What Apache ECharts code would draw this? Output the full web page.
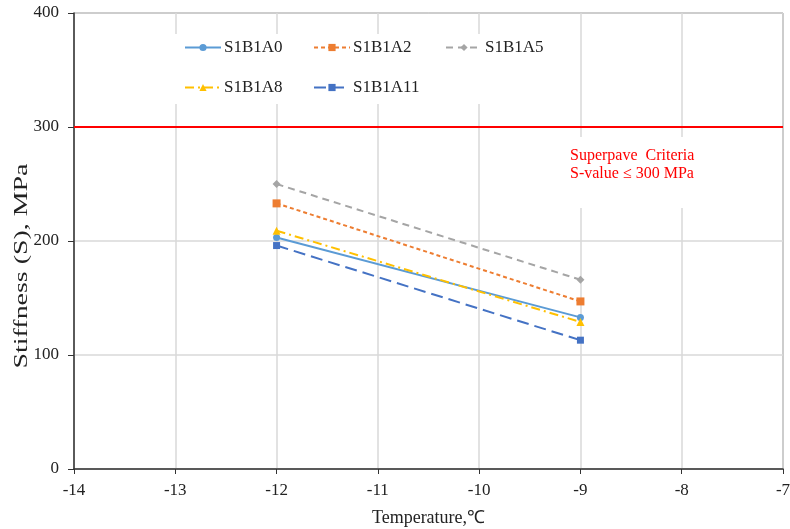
<!DOCTYPE html>
<html>
<head>
<meta charset="utf-8">
<script src="https://cdn.jsdelivr.net/npm/echarts@6/dist/echarts.min.js"></script>
<style>
  html, body { margin: 0; padding: 0; background: #fff; }
  #chart { width: 790px; height: 529px; }
</style>
</head>
<body>
<div id="chart"></div>
<script>
// Temperatures tested (°C)
const temperatures = [-12, -9];

// Creep stiffness S (MPa) per binder blend
const sA0  = [203, 133];
const sA2  = [233, 147];
const sA5  = [250, 166];
const sA8  = [209, 129];
const sA11 = [196, 113];

const seriesNames = ['S1B1A0', 'S1B1A2', 'S1B1A5', 'S1B1A8', 'S1B1A11'];
const criterion = 300;

const serif = '"Liberation Serif", "Times New Roman", serif';

const chart = echarts.init(document.getElementById('chart'));

function pairs(vals) {
  return temperatures.map((t, i) => [t, vals[i]]);
}

function lineSeries(name, vals, color, dash, symbol, size) {
  return {
    name: name,
    type: 'line',
    data: pairs(vals),
    symbol: symbol,
    symbolSize: size,
    showSymbol: true,
    itemStyle: { color: color },
    lineStyle: { color: color, width: 2, type: dash },
    emphasis: { disabled: true },
    z: 3
  };
}

const series = [
  lineSeries('S1B1A0', sA0, '#5B9BD5', 'solid', 'circle', 7),
  lineSeries('S1B1A2', sA2, '#ED7D31', [4, 3], 'rect', 8),
  lineSeries('S1B1A5', sA5, '#A5A5A5', [7, 5], 'diamond', 8),
  lineSeries('S1B1A8', sA8, '#FFC000', [9, 4, 2, 4], 'triangle', 8),
  lineSeries('S1B1A11', sA11, '#4472C4', [12, 6], 'rect', 7)
];

// Superpave limit line
series.push({
  name: 'criteria',
  type: 'line',
  data: [],
  markLine: {
    silent: true,
    symbol: 'none',
    label: { show: false },
    lineStyle: { color: '#FF0000', width: 2, type: 'solid' },
    data: [{ yAxis: criterion }]
  },
  z: 2
});

// one legend block per entry, laid out in two rows
const legendSpots = [
  { left: 184, top: 39 },
  { left: 313, top: 39 },
  { left: 445, top: 39 },
  { left: 184, top: 79 },
  { left: 313, top: 79 }
];
const legends = seriesNames.map((n, i) => ({
  data: [n],
  left: legendSpots[i].left,
  top: legendSpots[i].top,
  itemWidth: 36,
  itemHeight: 9,
  selectedMode: false,
  padding: 0,
  textStyle: { fontFamily: serif, fontSize: 17, color: '#222', padding: [0, 0, 0, -2] }
}));

chart.setOption({
  animation: false,
  backgroundColor: '#ffffff',
  grid: {
    left: 74, right: 7, top: 13, bottom: 60,
    outerBoundsMode: 'none', containLabel: false,
    show: true, borderColor: '#595959', borderWidth: 1
  },
  legend: legends,
  xAxis: {
    type: 'value',
    min: -14, max: -7, interval: 1,
    name: 'Temperature,\u2103',
    nameLocation: 'middle',
    nameGap: 40,
    nameTextStyle: { fontFamily: serif, fontSize: 18, color: '#222' },
    axisLine: { show: true, onZero: false, lineStyle: { color: '#333', width: 1.5 } },
    axisTick: { show: true, length: 5, inside: false, lineStyle: { color: '#333' } },
    axisLabel: { fontFamily: serif, fontSize: 17, color: '#222', margin: 13 },
    splitLine: { show: true, lineStyle: { color: '#D9D9D9', width: 1.5 } }
  },
  yAxis: {
    type: 'value',
    min: 0, max: 400, interval: 100,
    axisLine: { show: true, lineStyle: { color: '#333', width: 1.5 } },
    axisTick: { show: true, length: 6, inside: false, lineStyle: { color: '#333' } },
    axisLabel: { fontFamily: serif, fontSize: 17, color: '#222', margin: 15 },
    splitLine: { show: true, lineStyle: { color: '#D9D9D9', width: 1.5 } }
  },
  graphic: [
    // clear panels behind legend and note
    { type: 'rect', shape: { x: 170, y: 34, width: 385, height: 70 }, style: { fill: '#ffffff' }, z: 1, silent: true },
    { type: 'rect', shape: { x: 556, y: 137, width: 180, height: 71 }, style: { fill: '#ffffff' }, z: 1, silent: true },
    {
      type: 'text', left: 570, top: 147, z: 5, silent: true,
      style: {
        text: 'Superpave  Criteria\nS-value \u2264 300 MPa',
        font: '16px ' + serif,
        fill: '#FF0000',
        lineHeight: 18
      }
    },
    // vertical axis title, drawn elongated along its baseline
    {
      type: 'text', x: 22, y: 266, rotation: Math.PI / 2, scaleX: 1.55, z: 5, silent: true,
      style: {
        text: 'Stiffness (S), MPa',
        font: '18px ' + serif,
        fill: '#222',
        align: 'center',
        verticalAlign: 'middle'
      }
    }
  ],
  series: series
});
</script>
</body>
</html>
